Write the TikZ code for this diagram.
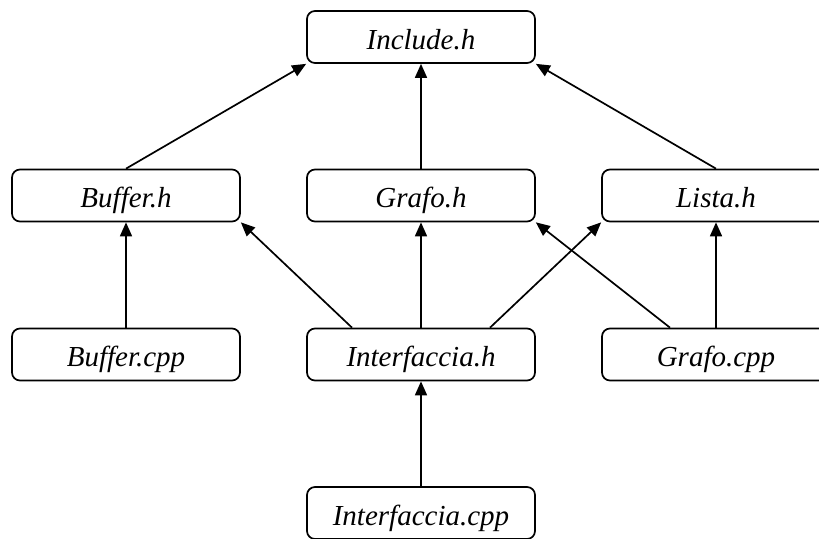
\documentclass[tikz,border=0pt]{standalone}
\usepackage{fontspec}
\setmainfont{Liberation Serif}
\usetikzlibrary{arrows.meta}

\tikzset{
  filebox/.style={draw, line width=1.7pt, rounded corners=8pt,
    minimum width=228pt, minimum height=52pt, inner sep=0pt,
    text height=25pt, text depth=1pt,
    font=\fontsize{29}{31}\selectfont\itshape},
  dep/.style={line width=1.7pt, -{Triangle[length=14pt,width=12pt]}}
}

\begin{document}
\begin{tikzpicture}[x=1pt,y=-1pt]
  \clip (0,0) rectangle (819,538);
  \useasboundingbox (0,0) rectangle (819,538);

  % header files
  \node[filebox] (inc)  at (421,37)    {Include.h};
  \node[filebox] (bufh) at (126,195.5) {Buffer.h};
  \node[filebox] (grah) at (421,195.5) {Grafo.h};
  \node[filebox] (lish) at (716,195.5) {Lista.h};

  % sources and interface
  \node[filebox] (bufc) at (126,354.5) {Buffer.cpp};
  \node[filebox] (inth) at (421,354.5) {Interfaccia.h};
  \node[filebox] (grac) at (716,354.5) {Grafo.cpp};
  \node[filebox] (intc) at (421,513)   {Interfaccia.cpp};

  % include dependencies
  \draw[dep] (bufh.north) -- (inc.south west);
  \draw[dep] (grah.north) -- (inc.south);
  \draw[dep] (lish.north) -- (inc.south east);

  \draw[dep] (bufc.north) -- (bufh.south);
  \draw[dep] ([xshift=-69pt]inth.north) -- (bufh.south east);
  \draw[dep] (inth.north) -- (grah.south);
  \draw[dep] ([xshift=69pt]inth.north) -- (lish.south west);
  \draw[dep] ([xshift=-46pt]grac.north) -- (grah.south east);
  \draw[dep] (grac.north) -- (lish.south);

  \draw[dep] (intc.north) -- (inth.south);
\end{tikzpicture}
\end{document}
